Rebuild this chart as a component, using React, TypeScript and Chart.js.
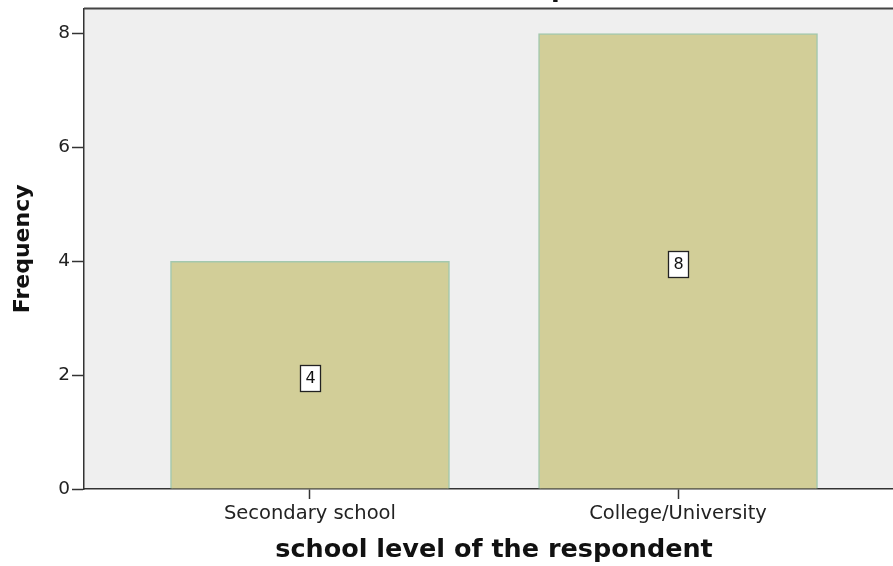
import React, { useEffect, useRef } from 'react';
import { Chart, registerables } from 'chart.js';

Chart.register(...registerables);

const categories: string[] = ['Secondary school', 'College/University'];
const frequencies: number[] = [4, 8];
const yTickValues: number[] = [0, 2, 4, 6, 8];
const chartTitle = 'school level of the respondent';
const xAxisTitle = 'school level of the respondent';
const yAxisTitle = 'Frequency';

const CANVAS_W = 920;
const CANVAS_H = 591;

const plotBackground = {
  id: 'plotBackground',
  beforeDraw(chart: any) {
    const { ctx, chartArea } = chart;
    ctx.save();
    ctx.fillStyle = '#efefef';
    ctx.fillRect(chartArea.left, chartArea.top, chartArea.right - chartArea.left, chartArea.bottom - chartArea.top);
    ctx.restore();
  },
  afterDraw(chart: any) {
    const { ctx, chartArea } = chart;
    ctx.save();
    ctx.strokeStyle = '#444';
    ctx.lineWidth = 2;
    ctx.beginPath();
    ctx.moveTo(chartArea.left, chartArea.top);
    ctx.lineTo(chartArea.right, chartArea.top);
    ctx.stroke();
    ctx.restore();
  },
};

const valueBoxes = {
  id: 'valueBoxes',
  afterDatasetsDraw(chart: any) {
    const { ctx } = chart;
    const meta = chart.getDatasetMeta(0);
    const data = chart.data.datasets[0].data as any[];
    ctx.save();
    meta.data.forEach((el: any, i: number) => {
      const { x, y, base } = el.getProps(['x', 'y', 'base'], true);
      const cx = x;
      const cy = (y + base) / 2 + 3;
      const w = 20;
      const h = 26;
      ctx.fillStyle = '#ffffff';
      ctx.fillRect(Math.round(cx - w / 2) + 0.5, Math.round(cy - h / 2) + 0.5, w, h);
      ctx.strokeStyle = '#222';
      ctx.lineWidth = 1.3;
      ctx.strokeRect(Math.round(cx - w / 2) + 0.5, Math.round(cy - h / 2) + 0.5, w, h);
      ctx.fillStyle = '#111';
      ctx.font = '16px "DejaVu Sans"';
      ctx.textAlign = 'center';
      ctx.textBaseline = 'middle';
      ctx.fillText(String(data[i].y), cx + 0.5, cy + 1);
    });
    ctx.restore();
  },
};

export default function App() {
  const canvasRef = useRef<HTMLCanvasElement | null>(null);

  useEffect(() => {
    if (!canvasRef.current) return;
    const chart = new Chart(canvasRef.current, {
      type: 'bar',
      data: {
        datasets: [
          {
            label: yAxisTitle,
            data: frequencies.map((v, i) => ({ x: i, y: v })),
            backgroundColor: '#d2ce98',
            borderColor: '#a3c8ae',
            borderWidth: 1.5,
            barThickness: 279,
          },
        ],
      },
      options: {
        animation: false,
        responsive: false,
        devicePixelRatio: 1,
        layout: { padding: { left: 0, right: 16, top: 0, bottom: 0 } },
        plugins: {
          legend: { display: false },
          tooltip: { enabled: false },
          title: {
            display: true,
            text: chartTitle,
            color: '#111',
            font: { family: 'DejaVu Sans', weight: 'bold', size: 25.5 },
            padding: { top: 0, bottom: 3 },
          },
        },
        scales: {
          x: {
            type: 'linear',
            min: -0.614,
            max: 1.614,
            offset: false,
            afterBuildTicks: (scale: any) => {
              scale.ticks = categories.map((_, i) => ({ value: i }));
            },
            afterFit: (scale: any) => {
              scale.height = 77;
            },
            ticks: {
              autoSkip: false,
              maxRotation: 0,
              padding: 3,
              color: '#222',
              font: { family: 'DejaVu Sans', size: 19.5 },
              callback: (v: any) => categories[Number(v)] ?? '',
            },
            grid: {
              offset: false,
              drawOnChartArea: false,
              drawTicks: true,
              tickLength: 10,
              tickColor: '#333',
              tickWidth: 1.5,
            },
            border: { display: true, color: '#333', width: 1.5 },
            title: {
              display: true,
              text: xAxisTitle,
              color: '#111',
              font: { family: 'DejaVu Sans', weight: 'bold', size: 25.5 },
              padding: { top: 0, bottom: 0 },
            },
          },
          y: {
            type: 'linear',
            min: 0,
            max: 8.44,
            afterBuildTicks: (scale: any) => {
              scale.ticks = yTickValues.map((v) => ({ value: v }));
            },
            afterFit: (scale: any) => {
              scale.width = 84;
            },
            ticks: {
              padding: 2,
              color: '#222',
              font: { family: 'DejaVu Sans', size: 18.5 },
            },
            grid: {
              offset: false,
              drawOnChartArea: false,
              drawTicks: true,
              tickLength: 12,
              tickColor: '#333',
              tickWidth: 1.5,
            },
            border: { display: true, color: '#333', width: 1.5 },
            title: {
              display: true,
              text: yAxisTitle,
              color: '#111',
              font: { family: 'DejaVu Sans', weight: 'bold', size: 22 },
              padding: { top: 10, bottom: 0 },
            },
          },
        },
      },
      plugins: [plotBackground, valueBoxes],
    } as any);
    return () => chart.destroy();
  }, []);

  return (
    <div
      style={{
        position: 'fixed',
        left: 0,
        top: 0,
        width: 893,
        height: 566,
        overflow: 'hidden',
        background: '#ffffff',
      }}
    >
      <canvas
        ref={canvasRef}
        width={CANVAS_W}
        height={CANVAS_H}
        style={{ position: 'absolute', left: 0, top: -25, width: CANVAS_W, height: CANVAS_H }}
      />
    </div>
  );
}
